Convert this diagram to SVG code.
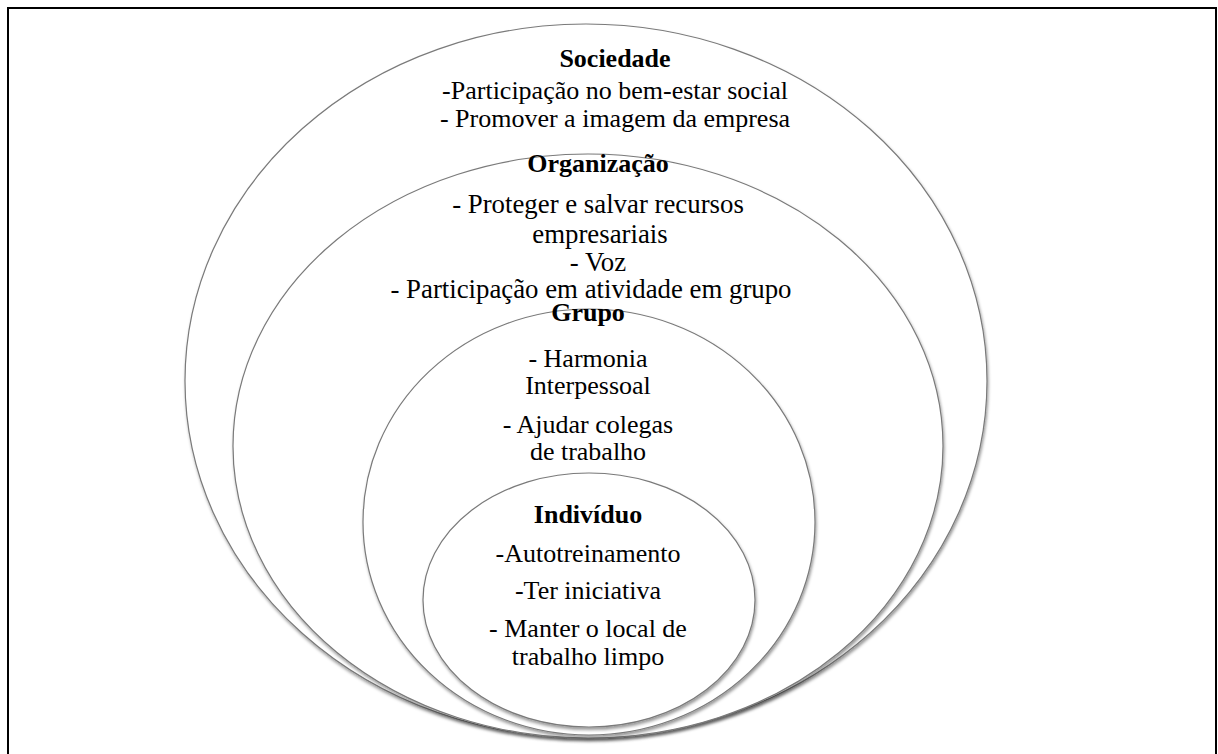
<svg xmlns="http://www.w3.org/2000/svg" width="1218" height="754" viewBox="0 0 1218 754">
  <defs>
    <filter id="shadow" x="-10%" y="-10%" width="120%" height="120%">
      <feDropShadow dx="1" dy="2.5" stdDeviation="1.8" flood-color="#000" flood-opacity="0.4"/>
    </filter>
  </defs>
  <style>
    .ring { fill: #ffffff; stroke: #7a7a7a; stroke-width: 1.2; filter: url(#shadow); }
    text { font-family: "Liberation Serif", "Times New Roman", "DejaVu Serif", serif; font-size: 26px; fill: #000; text-anchor: middle; }
    .title { font-weight: bold; }
    .wide { font-size: 26.8px; }
  </style>
  <rect width="1218" height="754" fill="#ffffff"/>
  <!-- page frame, open at the bottom edge -->
  <rect x="8" y="8" width="1208" height="780" fill="none" stroke="#000" stroke-width="2"/>

  <g id="sociedade">
    <ellipse class="ring" cx="586" cy="381" rx="401" ry="357"/>
    <text class="title" x="615" y="67">Sociedade</text>
    <text x="615" y="99">-Participação no bem-estar social</text>
    <text x="615" y="127">- Promover a imagem da empresa</text>
  </g>

  <g id="organizacao">
    <ellipse class="ring" cx="588" cy="446" rx="355" ry="292"/>
    <text class="title" x="598" y="172">Organização</text>
    <text class="wide" x="598" y="213">- Proteger e salvar recursos</text>
    <text class="wide" x="600" y="243">empresariais</text>
    <text class="wide" x="598" y="271">- Voz</text>
    <text class="wide" x="591" y="298">- Participação em atividade em grupo</text>
  </g>

  <g id="grupo">
    <ellipse class="ring" cx="589" cy="522" rx="226" ry="213"/>
    <text class="title" x="588" y="321">Grupo</text>
    <text x="588" y="367">- Harmonia</text>
    <text x="588" y="394">Interpessoal</text>
    <text x="588" y="433">- Ajudar colegas</text>
    <text x="588" y="460">de trabalho</text>
  </g>

  <g id="individuo">
    <ellipse class="ring" cx="589" cy="600" rx="166" ry="127"/>
    <text class="title" x="588" y="523">Indivíduo</text>
    <text x="588" y="562">-Autotreinamento</text>
    <text x="588" y="599">-Ter iniciativa</text>
    <text x="588" y="637">- Manter o local de</text>
    <text x="588" y="665">trabalho limpo</text>
  </g>

  <g id="connectors"/>
</svg>
